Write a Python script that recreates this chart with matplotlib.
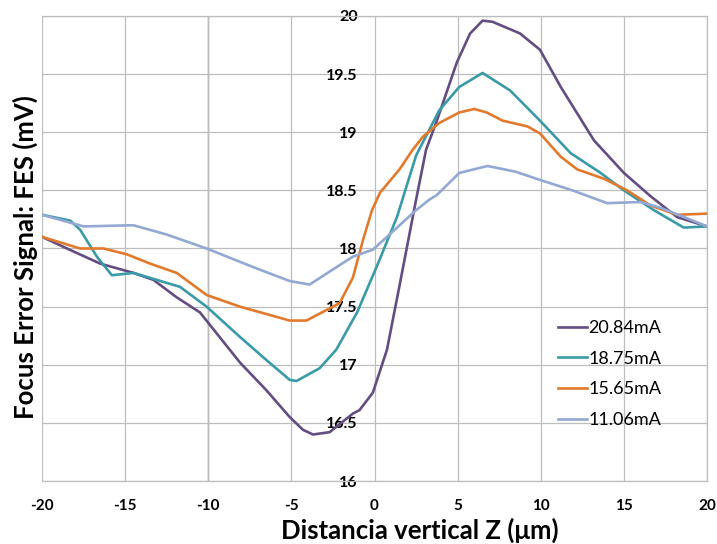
import matplotlib.pyplot as plt

plt.rcParams['font.family'] = ['Lato', 'DejaVu Sans']
plt.rcParams['axes.unicode_minus'] = False

# ---- data (z in um, FES in mV) ----
z_2084 = [-20, -18.5, -16.5, -14.5, -13.3, -11.9, -10.5, -8.1, -6.5, -5.1, -4.3, -3.7, -2.7, -1.3, -0.9,
          -0.1, 0.75, 1.53, 2.5, 3.1, 3.75, 4.95, 5.75, 6.5, 7.1, 8.75, 9.95, 11.2, 13.2, 15.0, 16.6, 18.2, 20]
fes_2084 = [18.1, 18.0, 17.87, 17.79, 17.73, 17.58, 17.45, 17.02, 16.78, 16.55, 16.44, 16.40, 16.42, 16.58, 16.61,
            16.76, 17.13, 17.7, 18.42, 18.85, 19.1, 19.6, 19.85, 19.96, 19.95, 19.85, 19.71, 19.39, 18.93, 18.65, 18.45, 18.27, 18.19]

z_1875 = [-20, -18.3, -17.7, -16.7, -15.8, -14.5, -11.7, -10.1, -8.1, -6.5, -5.1, -4.7, -3.3, -2.3, -1.05, 0.15,
          1.35, 2.5, 3.9, 5.1, 6.5, 8.15, 9.95, 11.8, 13.6, 15.0, 16.8, 18.6, 20]
fes_1875 = [18.29, 18.24, 18.16, 17.93, 17.77, 17.79, 17.67, 17.5, 17.24, 17.04, 16.87, 16.86, 16.97, 17.13, 17.45, 17.85,
            18.27, 18.8, 19.19, 19.39, 19.51, 19.36, 19.1, 18.82, 18.65, 18.5, 18.33, 18.18, 18.19]

z_1565 = [-20, -17.7, -16.3, -14.9, -13.5, -11.9, -10.1, -8.1, -5.1, -4.1, -2.1, -1.3, -0.7, -0.15, 0.33, 1.5, 2.3, 2.9, 3.9,
          5.1, 6.0, 6.75, 7.7, 9.2, 9.95, 11.2, 12.2, 13.8, 15.2, 16.6, 18.2, 20]
fes_1565 = [18.1, 18.0, 18.0, 17.95, 17.87, 17.79, 17.6, 17.5, 17.38, 17.38, 17.53, 17.75, 18.07, 18.33, 18.48, 18.68, 18.85, 18.96, 19.08,
            19.17, 19.2, 19.17, 19.1, 19.05, 18.99, 18.79, 18.68, 18.6, 18.5, 18.37, 18.29, 18.3]

z_1106 = [-20, -17.5, -14.5, -12.5, -10.1, -7.3, -5.1, -3.9, -2.5, -1.3, -0.1, 0.9, 2.5, 3.3, 3.75, 5.1,
          6.8, 8.5, 9.95, 11.9, 14.0, 16.0, 17.2, 18.8, 20]
fes_1106 = [18.29, 18.19, 18.2, 18.12, 18.0, 17.84, 17.72, 17.69, 17.82, 17.93, 17.99, 18.12, 18.33, 18.42, 18.46, 18.65,
            18.71, 18.66, 18.59, 18.5, 18.39, 18.4, 18.35, 18.26, 18.19]

labels = ['20.84mA', '18.75mA', '15.65mA', '11.06mA']
colors = ['#644d82', '#3a9aa8', '#e27a2e', '#93a8d2']

fig = plt.figure(figsize=(7.17, 5.44), dpi=100)
ax = fig.add_axes([0.0586, 0.1158, 0.9275, 0.8548])

series = [(z_2084, fes_2084), (z_1875, fes_1875), (z_1565, fes_1565), (z_1106, fes_1106)]
for (z, f), lab, c in zip(series, labels, colors):
    ax.plot(z, f, color=c, lw=1.9, label=lab, zorder=3)

ax.set_xlim(-20, 20)
ax.set_ylim(16, 20)
ax.set_xticks(range(-20, 21, 5))
ax.set_yticks([16, 16.5, 17, 17.5, 18, 18.5, 19, 19.5, 20])
ax.set_yticklabels(['16', '16.5', '17', '17.5', '18', '18.5', '19', '19.5', '20'])
ax.grid(True, color='#bdbdbd', lw=0.9, zorder=0)
ax.axvline(-10, color='#8c8c8c', lw=1.0, zorder=1)

# y tick labels sit next to z = 0
ax.spines['left'].set_position(('data', 0))
ax.spines['left'].set_visible(False)
for s in ['top', 'right', 'bottom']:
    ax.spines[s].set_color('#bdbdbd')
    ax.spines[s].set_linewidth(0.9)
ax.tick_params(axis='y', length=0, pad=12, labelsize=11.5)
ax.tick_params(axis='x', length=0, pad=13, labelsize=11)
for t in ax.get_xticklabels() + ax.get_yticklabels():
    t.set_fontweight('bold')

fig.text(0.036, 0.527, 'Focus Error Signal: FES (mV)', rotation=90, ha='center', va='center',
         fontsize=18.5, fontweight='bold')
fig.text(0.586, 0.026, 'Distancia vertical Z (\u03bcm)', ha='center', va='center',
         fontsize=18.5, fontweight='bold')

ax.legend(loc='center left', bbox_to_anchor=(0.765, 0.230), frameon=False, fontsize=13,
          handlelength=1.6, handletextpad=0.1, labelspacing=0.82, borderaxespad=0)

fig.savefig('out.png', dpi=100)
